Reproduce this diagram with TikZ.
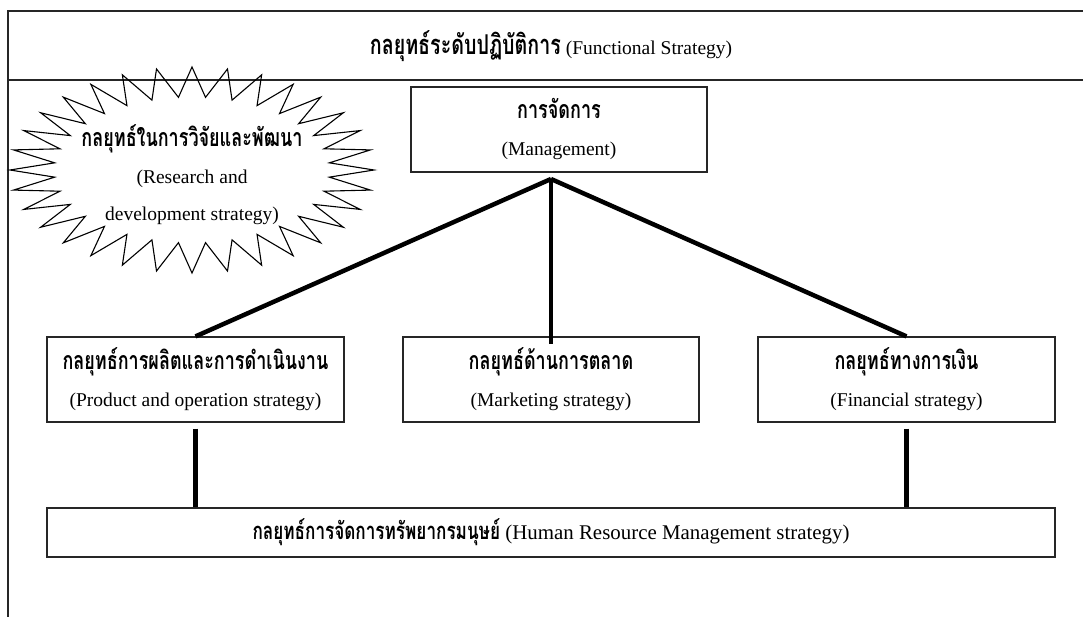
\documentclass[tikz,border=0pt]{standalone}
\usepackage{fontspec}
\setmainfont{Liberation Serif}
\newfontfamily\thaifont[Script=Thai,FakeStretch=0.72]{Loma}
\newcommand{\thaitxt}[2][25]{{\thaifont\bfseries\fontsize{#1}{37}\selectfont #2}}
\begin{document}
\begin{tikzpicture}[x=1pt,y=-1pt,
  frameline/.style={line width=1.3pt,draw=black!85},
  box/.style={draw=black!85,line width=1.2pt,align=center,inner sep=0pt,
    font=\fontsize{19.5}{37}\selectfont},
  conn/.style={line width=4.5pt}]
\useasboundingbox (0,0) rectangle (1083,617);
% frame
\draw[frameline] (1083,11) -- (8,11) -- (8,617);
\draw[frameline] (8,80) -- (1083,80);
\node[font=\fontsize{19.5}{24}\selectfont] (title) at (551,46) {\thaitxt[27.3]{กลยุทธ์ระดับปฏิบัติการ} (Functional Strategy)};
% star
\draw[line width=1.1pt] plot[samples at={0,...,63}, variable=\k]
  ({192+(182-44*mod(\k,2))*cos(\k*5.625)},{170+(103-30*mod(\k,2))*sin(\k*5.625)}) -- cycle;
\node[align=center,font=\fontsize{19.5}{37}\selectfont] (rd) at (192,175)
  {\thaitxt{กลยุทธ์ในการวิจัยและพัฒนา}\\(Research and\\development strategy)};
% boxes
\node[box,minimum width=296,minimum height=85] (mg) at (559,129.5)
  {\thaitxt{การจัดการ}\\(Management)};
\node[box,minimum width=297,minimum height=85] (pb) at (195.5,379.5)
  {\thaitxt{กลยุทธ์การผลิตและการดำเนินงาน}\\(Product and operation strategy)};
\node[box,minimum width=296,minimum height=85] (mb) at (551,379.5)
  {\thaitxt{กลยุทธ์ด้านการตลาด}\\(Marketing strategy)};
\node[box,minimum width=297,minimum height=85] (fb) at (906.5,379.5)
  {\thaitxt{กลยุทธ์ทางการเงิน}\\(Financial strategy)};
\node[box,minimum width=1008,minimum height=49,font=\fontsize{20.9}{37}\selectfont] (hr) at (551,532.5)
  {\thaitxt[23.8]{กลยุทธ์การจัดการทรัพยากรมนุษย์} (Human Resource Management strategy)};
% connectors
\coordinate (apex) at (551,179);
\draw[conn] (apex) -- (pb.north);
\draw[conn] (apex) -- (fb.north);
\draw[conn] (apex) -- ([yshift=-8pt]mb.north);
\draw[conn] ([yshift=-6pt]pb.south) -- (pb.south |- hr.north);
\draw[conn] ([yshift=-6pt]fb.south) -- (fb.south |- hr.north);
\end{tikzpicture}
\end{document}
